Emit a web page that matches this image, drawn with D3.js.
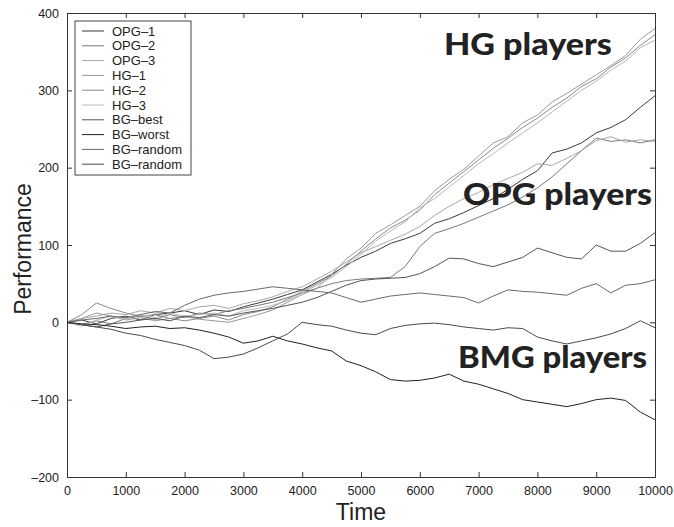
<!DOCTYPE html>
<html>
<head>
<meta charset="utf-8">
<script src="https://cdn.jsdelivr.net/npm/d3@7"></script>
<style>
body{margin:0;background:#fff}
svg text{font-family:"Liberation Sans",Arial,sans-serif;fill:#222}
</style>
</head>
<body>
<svg class="perfChart" width="674" height="527"></svg>
<script>
// time steps (every 250)
const times = [0,250,500,750,1000,1250,1500,1750,2000,2250,2500,2750,3000,3250,3500,3750,4000,4250,4500,4750,5000,
    5250,5500,5750,6000,6250,6500,6750,7000,7250,7500,7750,8000,8250,8500,8750,9000,9250,9500,9750,10000]

const opg1 = [0,3,-2,5,8,3,10,12,15,10,16,14,20,25,30,36,42,52,62,74,84,92,102,108,115,128,134,142,151,160,172,185,196,219,224,232,245,252,262,278,293]
const opg2 = [0,-3,2,-2,5,8,4,10,6,12,10,15,18,22,26,32,38,44,50,54,56,57,58,72,98,115,121,128,136,144,152,162,174,188,205,222,238,234,236,232,236]
const opg3 = [0,5,8,12,10,15,12,18,15,20,22,18,24,28,33,40,46,56,66,78,90,98,106,114,124,138,150,160,168,178,186,194,205,203,212,222,235,240,233,236,234]
const hg1 = [0,5,12,8,3,6,2,5,8,4,2,0,5,10,16,26,36,44,62,82,96,115,126,138,150,170,185,198,215,232,240,258,268,285,296,308,320,332,345,366,380]
const hg2 = [0,10,25,18,12,8,10,5,2,5,8,3,10,14,20,30,40,50,60,75,92,108,122,132,145,165,180,195,210,225,238,252,264,278,290,305,315,330,342,358,372]
const hg3 = [0,-5,3,8,5,10,6,12,8,10,12,8,15,18,22,28,38,48,58,72,88,105,118,130,148,160,175,190,205,218,232,245,258,272,286,300,312,326,338,355,365]
const bgBest = [0,-3,-6,-2,0,3,5,2,8,6,10,8,12,15,18,22,26,32,40,48,54,56,57,58,63,72,83,82,76,72,78,84,96,90,84,82,100,92,92,102,116]
const bgWorst = [0,-2,-3,-5,-8,-6,-5,-8,-7,-10,-14,-19,-27,-24,-18,-24,-28,-33,-37,-50,-56,-64,-74,-76,-75,-72,-67,-76,-80,-86,-92,-100,-103,-106,-109,-105,-100,-98,-101,-116,-126]
const bgRand1 = [0,3,5,8,6,10,14,12,22,30,35,38,40,43,46,44,42,40,38,32,26,30,34,36,38,36,34,32,25,34,42,40,39,37,35,44,50,38,48,50,55]
const bgRand2 = [0,-3,-6,-9,-14,-17,-22,-26,-30,-36,-47,-45,-41,-33,-24,-15,0,-3,-5,-10,-14,-16,-8,-4,-2,-1,-3,-6,-8,-10,-7,-8,-19,-24,-28,-24,-20,-15,-8,2,-7]

const seriesNames = ["OPG\u20131","OPG\u20132","OPG\u20133","HG\u20131","HG\u20132","HG\u20133","BG\u2013best","BG\u2013worst","BG\u2013random","BG\u2013random"]
const seriesValues = [opg1,opg2,opg3,hg1,hg2,hg3,bgBest,bgWorst,bgRand1,bgRand2]
const seriesColors = ["#3a3a3a","#7a7a7a","#a8a8a8","#9a9a9a","#8a8a8a","#b8b8b8","#555","#222","#6a6a6a","#4a4a4a"]

const xTicks = [0,1000,2000,3000,4000,5000,6000,7000,8000,9000,10000]
const yTicks = [-200,-100,0,100,200,300,400]

// group annotations (time, performance, text width)
const groupLabels = ["HG players","OPG players","BMG players"]
const groupAt = [[6410,346],[6735,152],[6650,-59]]
const groupWidth = [168,189,189]

let margin = {top: 13, right: 19, bottom: 50, left: 67},
    width = 674 - margin.left - margin.right,
    height = 527 - margin.top - margin.bottom

let svg = d3.select(".perfChart")
let g = svg.append("g").attr("transform", `translate(${margin.left},${margin.top})`)

let x = d3.scaleLinear().domain([0, 10000]).range([0, width])
let y = d3.scaleLinear().domain([-200, 400]).range([height, 0])

// lines
let line = d3.line()
    .x((d, i) => x(times[i]))
    .y(d => y(d))

g.selectAll(".perf")
    .data(seriesValues)
    .join("path")
    .attr("class", "perf")
    .attr("d", d => line(d))
    .attr("fill", "none")
    .attr("stroke", (d, i) => seriesColors[i])
    .attr("stroke-width", 1)
    .attr("stroke-linejoin", "round")

// box + inward ticks (matlab style)
let tickLen = 5
g.append("g").attr("transform", `translate(0,${height})`)
    .call(d3.axisBottom(x).tickValues(xTicks).tickSize(-tickLen).tickPadding(9).tickFormat(d3.format("d")))
g.append("g")
    .call(d3.axisTop(x).tickValues(xTicks).tickSize(-tickLen).tickFormat(""))
g.append("g")
    .call(d3.axisLeft(y).tickValues(yTicks).tickSize(-tickLen).tickPadding(8).tickFormat(d => d < 0 ? "\u2013" + Math.abs(d) : d))
g.append("g").attr("transform", `translate(${width},0)`)
    .call(d3.axisRight(y).tickValues(yTicks).tickSize(-tickLen).tickFormat(""))

g.selectAll(".domain").attr("stroke", "#333")
g.selectAll(".tick line").attr("stroke", "#333")
g.selectAll(".tick text").attr("font-size", "12.5px").attr("fill", "#222")
    .style("font-family", '"Liberation Sans",Arial,sans-serif')

// legend
let legX = 8, legY = 8, rowH = 14.8
g.append("rect")
    .attr("x", legX).attr("y", legY)
    .attr("width", 116).attr("height", 154)
    .attr("fill", "#fff").attr("stroke", "#444").attr("stroke-width", 1)

let rows = g.selectAll(".legRow")
    .data(seriesNames)
    .join("g")
    .attr("class", "legRow")
    .attr("transform", (d, i) => `translate(${legX},${legY + 10 + i * rowH})`)
rows.append("line")
    .attr("x1", 7).attr("x2", 29)
    .attr("stroke", (d, i) => seriesColors[i]).attr("stroke-width", 1)
rows.append("text")
    .attr("x", 37).attr("dy", "0.36em")
    .attr("font-size", "13px")
    .text(d => d)

// axis titles
svg.append("text")
    .attr("x", margin.left + width / 2).attr("y", 520)
    .attr("text-anchor", "middle").attr("font-size", "23px")
    .text("Time")
svg.append("text")
    .attr("transform", `translate(31,${margin.top + y(100) + 4}) rotate(-90)`)
    .attr("text-anchor", "middle").attr("font-size", "23px")
    .text("Performance")

// group labels
g.selectAll(".grp")
    .data(groupLabels)
    .join("text")
    .attr("class", "grp")
    .attr("x", (d, i) => x(groupAt[i][0]))
    .attr("y", (d, i) => y(groupAt[i][1]))
    .attr("textLength", (d, i) => groupWidth[i])
    .attr("lengthAdjust", "spacingAndGlyphs")
    .style("font-family", "Lato,'DejaVu Sans',sans-serif")
    .style("font-weight", 900)
    .style("font-size", "30px")
    .attr("fill", "#1a1a1a")
    .text(d => d)
</script>
</body>
</html>
